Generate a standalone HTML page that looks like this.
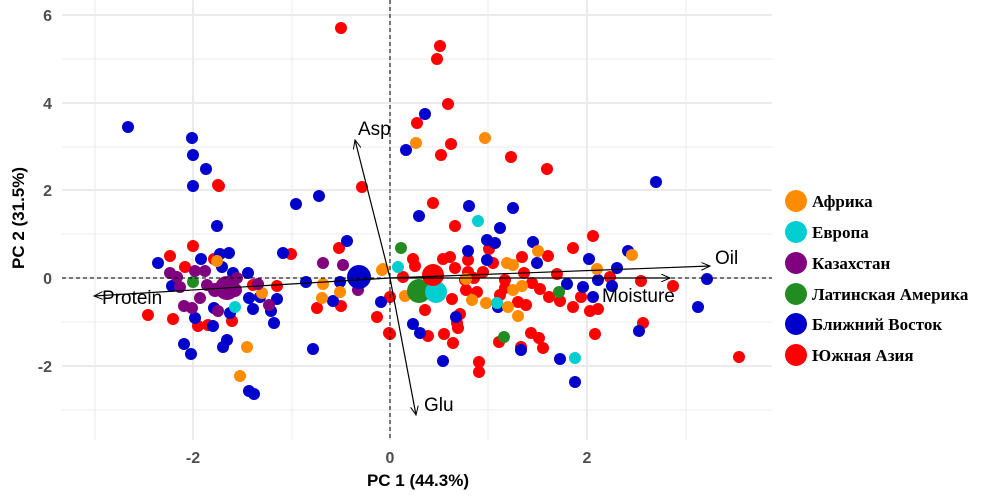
<!DOCTYPE html>
<html><head><meta charset="utf-8"><style>
body{margin:0;background:#fff;width:1000px;height:500px;overflow:hidden}
svg{display:block}
.t{font-family:"Liberation Sans",sans-serif;font-weight:bold;font-size:16px;fill:#4d4d4d}
.a{font-family:"Liberation Sans",sans-serif;font-size:19px;fill:#000}
.lg{font-family:"Liberation Serif",serif;font-weight:bold;font-size:17px;fill:#000}
</style></head><body>
<svg width="1000" height="500" viewBox="0 0 1000 500" xmlns="http://www.w3.org/2000/svg">
<defs><marker id="ar" markerWidth="10" markerHeight="8" refX="9" refY="4" orient="auto" markerUnits="userSpaceOnUse"><path d="M0,0 L9,4 L0,8" fill="none" stroke="#000" stroke-width="1"/></marker></defs>
<g stroke="#ebebeb" stroke-width="1">
<line x1="95" y1="0" x2="95" y2="440"/><line x1="292" y1="0" x2="292" y2="440"/><line x1="488" y1="0" x2="488" y2="440"/><line x1="686" y1="0" x2="686" y2="440"/>
<line x1="62" y1="59" x2="772" y2="59"/><line x1="62" y1="147" x2="772" y2="147"/><line x1="62" y1="234" x2="772" y2="234"/><line x1="62" y1="322" x2="772" y2="322"/><line x1="62" y1="410" x2="772" y2="410"/>
</g>
<g stroke="#ebebeb" stroke-width="2">
<line x1="193" y1="0" x2="193" y2="440"/><line x1="390" y1="0" x2="390" y2="440"/><line x1="587" y1="0" x2="587" y2="440"/>
<line x1="62" y1="15" x2="772" y2="15"/><line x1="62" y1="103" x2="772" y2="103"/><line x1="62" y1="190" x2="772" y2="190"/><line x1="62" y1="278" x2="772" y2="278"/><line x1="62" y1="366" x2="772" y2="366"/>
</g>
<g id="pts">
<g fill="#ff0000">
<circle cx="219" cy="186" r="6"/><circle cx="362" cy="187" r="6"/><circle cx="339" cy="248" r="6"/><circle cx="193" cy="246" r="6"/><circle cx="170" cy="256" r="6"/><circle cx="185" cy="267" r="6"/><circle cx="214" cy="259" r="6"/><circle cx="253" cy="285" r="6"/><circle cx="277" cy="286" r="6"/><circle cx="291" cy="254" r="6"/><circle cx="317" cy="308" r="6"/><circle cx="341" cy="306" r="6"/><circle cx="390" cy="297" r="6"/><circle cx="377" cy="317" r="6"/><circle cx="390" cy="334" r="6"/><circle cx="198" cy="326" r="6"/><circle cx="208" cy="325" r="6"/><circle cx="232" cy="321" r="6"/><circle cx="148" cy="315" r="6"/><circle cx="173" cy="319" r="6"/>
<circle cx="433" cy="203" r="6"/><circle cx="455" cy="226" r="6"/><circle cx="593" cy="236" r="6"/><circle cx="489" cy="249" r="6"/><circle cx="573" cy="248" r="6"/><circle cx="548" cy="256" r="6"/><circle cx="450" cy="257" r="6"/><circle cx="443" cy="259" r="6"/><circle cx="413" cy="259" r="6"/><circle cx="415" cy="266" r="6"/><circle cx="493" cy="263" r="6"/><circle cx="522" cy="257" r="6"/><circle cx="468" cy="260" r="6"/><circle cx="455" cy="268" r="6"/><circle cx="468" cy="272" r="6"/><circle cx="483" cy="272" r="6"/><circle cx="524" cy="273" r="6"/><circle cx="557" cy="274" r="6"/><circle cx="610" cy="277" r="6"/><circle cx="641" cy="281" r="6"/><circle cx="673" cy="286" r="6"/><circle cx="403" cy="277" r="6"/><circle cx="465" cy="280" r="6"/><circle cx="474" cy="278" r="6"/><circle cx="505" cy="280" r="6"/><circle cx="532" cy="283" r="6"/><circle cx="540" cy="289" r="6"/><circle cx="549" cy="297" r="6"/><circle cx="560" cy="301" r="6"/><circle cx="573" cy="307" r="6"/><circle cx="581" cy="297" r="6"/><circle cx="590" cy="311" r="6"/><circle cx="598" cy="309" r="6"/><circle cx="452" cy="299" r="6"/><circle cx="500" cy="295" r="6"/><circle cx="505" cy="288" r="6"/><circle cx="518" cy="302" r="6"/><circle cx="526" cy="305" r="6"/><circle cx="466" cy="290" r="6"/><circle cx="477" cy="292" r="6"/><circle cx="425" cy="310" r="6"/><circle cx="460" cy="314" r="6"/><circle cx="457" cy="323" r="6"/><circle cx="458" cy="328" r="6"/><circle cx="428" cy="336" r="6"/><circle cx="444" cy="334" r="6"/><circle cx="453" cy="343" r="6"/><circle cx="389" cy="333" r="6"/><circle cx="499" cy="342" r="6"/><circle cx="531" cy="333" r="6"/><circle cx="539" cy="338" r="6"/><circle cx="543" cy="348" r="6"/><circle cx="521" cy="347" r="6"/><circle cx="479" cy="362" r="6"/><circle cx="479" cy="372" r="6"/><circle cx="595" cy="334" r="6"/><circle cx="643" cy="323" r="6"/><circle cx="739" cy="357" r="6"/>
<circle cx="341" cy="28" r="6"/><circle cx="440" cy="46" r="6"/><circle cx="437" cy="59" r="6"/><circle cx="448" cy="104" r="6"/><circle cx="417" cy="123" r="6"/><circle cx="451" cy="144" r="6"/><circle cx="441" cy="155" r="6"/><circle cx="511" cy="157" r="6"/><circle cx="547" cy="169" r="6"/><circle cx="218" cy="185" r="6"/>
</g>
<g fill="#0000cd">
<circle cx="193" cy="186" r="6"/><circle cx="296" cy="204" r="6"/><circle cx="319" cy="196" r="6"/><circle cx="217" cy="226" r="6"/><circle cx="347" cy="241" r="6"/><circle cx="158" cy="263" r="6"/><circle cx="201" cy="259" r="6"/><circle cx="220" cy="254" r="6"/><circle cx="229" cy="253" r="6"/><circle cx="222" cy="267" r="6"/><circle cx="233" cy="273" r="6"/><circle cx="248" cy="273" r="6"/><circle cx="172" cy="286" r="6"/><circle cx="283" cy="253" r="6"/><circle cx="306" cy="282" r="6"/><circle cx="340" cy="282" r="6"/><circle cx="333" cy="301" r="6"/><circle cx="381" cy="302" r="6"/><circle cx="313" cy="349" r="6"/><circle cx="195" cy="318" r="6"/><circle cx="213" cy="326" r="6"/><circle cx="214" cy="308" r="6"/><circle cx="230" cy="313" r="6"/><circle cx="249" cy="298" r="6"/><circle cx="260" cy="297" r="6"/><circle cx="253" cy="309" r="6"/><circle cx="277" cy="299" r="6"/><circle cx="271" cy="311" r="6"/><circle cx="274" cy="323" r="6"/><circle cx="184" cy="344" r="6"/><circle cx="191" cy="354" r="6"/><circle cx="227" cy="340" r="6"/><circle cx="223" cy="347" r="6"/><circle cx="249" cy="391" r="6"/><circle cx="254" cy="394" r="6"/>
<circle cx="656" cy="182" r="6"/><circle cx="469" cy="206" r="6"/><circle cx="513" cy="208" r="6"/><circle cx="419" cy="216" r="6"/><circle cx="500" cy="228" r="6"/><circle cx="487" cy="240" r="6"/><circle cx="495" cy="243" r="6"/><circle cx="533" cy="242" r="6"/><circle cx="468" cy="251" r="6"/><circle cx="487" cy="260" r="6"/><circle cx="537" cy="263" r="6"/><circle cx="589" cy="259" r="6"/><circle cx="628" cy="251" r="6"/><circle cx="617" cy="268" r="6"/><circle cx="598" cy="280" r="6"/><circle cx="567" cy="284" r="6"/><circle cx="583" cy="287" r="6"/><circle cx="612" cy="286" r="6"/><circle cx="707" cy="279" r="6"/><circle cx="698" cy="307" r="6"/><circle cx="593" cy="297" r="6"/><circle cx="498" cy="307" r="6"/><circle cx="456" cy="317" r="6"/><circle cx="413" cy="324" r="6"/><circle cx="420" cy="333" r="6"/><circle cx="521" cy="350" r="6"/><circle cx="560" cy="359" r="6"/><circle cx="443" cy="361" r="6"/><circle cx="575" cy="382" r="6"/><circle cx="639" cy="331" r="6"/>
<circle cx="128" cy="127" r="6"/><circle cx="192" cy="138" r="6"/><circle cx="193" cy="155" r="6"/><circle cx="206" cy="169" r="6"/><circle cx="425" cy="114" r="6"/><circle cx="406" cy="150" r="6"/>
</g>
<g fill="#ff8c00">
<circle cx="217" cy="261" r="6"/><circle cx="382" cy="270" r="6"/><circle cx="323" cy="284" r="6"/><circle cx="340" cy="292" r="6"/><circle cx="322" cy="298" r="6"/><circle cx="262" cy="293" r="6"/><circle cx="247" cy="347" r="6"/><circle cx="240" cy="376" r="6"/><circle cx="383" cy="269" r="6"/><circle cx="538" cy="251" r="6"/><circle cx="507" cy="263" r="6"/><circle cx="513" cy="265" r="6"/><circle cx="632" cy="255" r="6"/><circle cx="597" cy="269" r="6"/><circle cx="405" cy="296" r="6"/><circle cx="466" cy="279" r="6"/><circle cx="472" cy="300" r="6"/><circle cx="486" cy="303" r="6"/><circle cx="513" cy="290" r="6"/><circle cx="522" cy="286" r="6"/><circle cx="508" cy="307" r="6"/><circle cx="518" cy="316" r="6"/><circle cx="416" cy="143" r="6"/><circle cx="485" cy="138" r="6"/>
</g>
<g fill="#00ced1"><circle cx="235" cy="307" r="6"/><circle cx="398" cy="267" r="6"/><circle cx="478" cy="221" r="6"/><circle cx="497" cy="303" r="6"/><circle cx="575" cy="358" r="6"/></g>
<g fill="#228b22"><circle cx="193" cy="282" r="6"/><circle cx="401" cy="248" r="6"/><circle cx="559" cy="292" r="6"/><circle cx="504" cy="337" r="6"/></g>
<g fill="#800080">
<circle cx="195" cy="271" r="6"/><circle cx="205" cy="271" r="6"/><circle cx="170" cy="273" r="6"/><circle cx="177" cy="277" r="6"/><circle cx="180" cy="287" r="6"/><circle cx="207" cy="285" r="6"/><circle cx="237" cy="278" r="6"/><circle cx="258" cy="284" r="6"/><circle cx="323" cy="263" r="6"/><circle cx="343" cy="265" r="6"/><circle cx="358" cy="290" r="6"/><circle cx="184" cy="306" r="6"/><circle cx="192" cy="308" r="6"/><circle cx="200" cy="298" r="6"/><circle cx="218" cy="311" r="6"/><circle cx="269" cy="305" r="6"/><circle cx="215" cy="290" r="7"/><circle cx="235" cy="290" r="7"/>
<circle cx="227" cy="288" r="12"/></g>
<circle cx="359" cy="277" r="12" fill="#0000cd"/>
<circle cx="419" cy="291" r="12" fill="#228b22"/>
<circle cx="436" cy="292" r="11" fill="#00ced1"/>
<circle cx="433" cy="275" r="11" fill="#ff0000"/>
</g>
<line x1="62" y1="278" x2="772" y2="278" stroke="#000" stroke-dasharray="4,3" stroke-width="1"/>
<line x1="390" y1="0" x2="390" y2="440" stroke="#000" stroke-dasharray="4,3" stroke-width="1"/>
<g stroke="#000" stroke-width="1.2" fill="none">
<line x1="390" y1="278" x2="710" y2="266" marker-end="url(#ar)"/>
<line x1="390" y1="278" x2="670" y2="278" marker-end="url(#ar)"/>
<line x1="390" y1="278" x2="94" y2="296" marker-end="url(#ar)"/>
<line x1="390" y1="278" x2="355" y2="140" marker-end="url(#ar)"/>
<line x1="390" y1="278" x2="416" y2="415" marker-end="url(#ar)"/>
</g>
<text class="a" x="715" y="264">Oil</text>
<text class="a" x="602" y="302">Moisture</text>
<text class="a" x="102" y="304">Protein</text>
<text class="a" x="358" y="135">Asp</text>
<text class="a" x="424" y="411">Glu</text>
<g class="t" text-anchor="end"><text x="52" y="21">6</text><text x="52" y="109">4</text><text x="52" y="196">2</text><text x="52" y="284">0</text><text x="52" y="372">-2</text></g>
<g class="t" text-anchor="middle"><text x="193" y="463">-2</text><text x="390" y="463">0</text><text x="587" y="463">2</text></g>
<text x="418" y="486" text-anchor="middle" style="font-family:'Liberation Sans',sans-serif;font-weight:bold;font-size:17px">PC 1 (44.3%)</text>
<text transform="translate(24,218) rotate(-90)" text-anchor="middle" style="font-family:'Liberation Sans',sans-serif;font-weight:bold;font-size:17px">PC 2 (31.5%)</text>
<circle cx="796" cy="201" r="11" fill="#ff8c00"/><text class="lg" x="812" y="207">Африка</text>
<circle cx="796" cy="232" r="11" fill="#00ced1"/><text class="lg" x="812" y="238">Европа</text>
<circle cx="796" cy="263" r="11" fill="#800080"/><text class="lg" x="812" y="269">Казахстан</text>
<circle cx="796" cy="294" r="11" fill="#228b22"/><text class="lg" x="812" y="300">Латинская Америка</text>
<circle cx="796" cy="324" r="11" fill="#0000cd"/><text class="lg" x="812" y="330">Ближний Восток</text>
<circle cx="796" cy="355" r="11" fill="#ff0000"/><text class="lg" x="812" y="361">Южная Азия</text>
</svg>
</body></html>
